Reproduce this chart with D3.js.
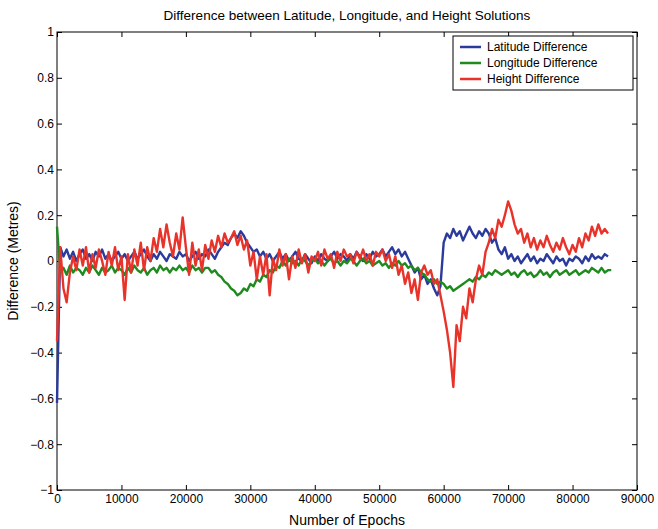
<!DOCTYPE html>
<html><head><meta charset="utf-8">
<script src="https://cdn.jsdelivr.net/npm/d3@7"></script>
<style>body{margin:0;background:#fff}text{font-family:Arial,"Liberation Sans",sans-serif}</style>
</head><body><div id="chart"></div>
<script>
// epochs sampled every 500
const step = 500;
const latitude = [-0.62,0.06,0.02,0.05,0.01,0.04,0.0,0.03,0.05,0.01,0.03,0.0,0.04,0.02,0.05,0.01,0.03,0.0,0.02,0.04,
  0.01,0.03,0.0,0.02,0.04,0.01,0.03,0.05,0.02,0.0,0.03,0.01,0.04,0.02,0.0,0.03,0.02,0.01,0.04,0.02,
  0.03,0.0,0.02,0.04,0.01,0.03,0.02,0.05,0.03,0.01,0.04,0.06,0.08,0.07,0.10,0.12,0.10,0.13,0.11,0.08,
  0.06,0.04,0.05,0.02,0.04,0.01,0.03,0.0,0.02,0.04,0.01,0.03,0.0,0.02,0.04,0.01,0.0,0.03,0.01,-0.01,
  0.02,0.0,0.03,0.01,0.0,0.02,0.04,0.01,0.03,0.02,0.0,0.03,0.01,0.04,0.02,0.0,0.03,0.01,0.04,0.02,
  0.03,0.05,0.02,0.04,0.06,0.03,0.05,0.02,0.04,0.01,-0.02,-0.05,-0.03,-0.08,-0.06,-0.10,-0.08,-0.12,-0.15,-0.11,
  0.08,0.12,0.10,0.14,0.11,0.13,0.09,0.12,0.15,0.12,0.10,0.13,0.11,0.14,0.12,0.08,0.10,0.05,0.03,0.06,
  0.01,0.03,0.0,0.02,-0.01,0.01,0.03,0.0,0.02,-0.01,0.01,0.0,0.03,0.01,-0.01,0.02,0.0,0.01,-0.02,0.01,
  0.0,0.02,0.01,-0.01,0.02,0.0,0.03,0.01,0.02,0.01,0.03,0.02];
const longitude = [0.15,-0.05,-0.03,-0.06,-0.02,-0.05,-0.03,-0.04,-0.06,-0.03,-0.05,-0.02,-0.04,-0.06,-0.03,-0.05,-0.04,-0.02,-0.05,-0.03,
  -0.04,-0.06,-0.03,-0.05,-0.02,-0.04,-0.05,-0.03,-0.06,-0.04,-0.03,-0.05,-0.02,-0.04,-0.03,-0.05,-0.03,-0.04,-0.02,-0.04,
  -0.03,-0.05,-0.02,-0.04,-0.03,-0.05,-0.03,
  -0.03,-0.05,-0.04,-0.06,-0.07,-0.09,-0.10,-0.12,-0.13,-0.15,-0.14,-0.12,-0.13,-0.10,-0.11,-0.08,-0.09,-0.06,-0.07,-0.04,
  -0.05,-0.02,-0.03,0.0,-0.02,0.01,-0.01,0.0,-0.02,0.01,0.0,-0.02,0.0,0.01,-0.01,0.0,-0.02,0.0,0.01,-0.01,
  0.0,-0.02,0.0,-0.01,0.01,0.0,-0.02,0.0,0.01,-0.01,0.0,-0.02,-0.01,
  0.0,-0.02,-0.01,-0.03,-0.01,-0.02,0.0,-0.02,-0.01,-0.03,-0.02,-0.04,-0.03,-0.05,-0.06,-0.08,-0.09,-0.08,-0.10,-0.09,
  -0.10,-0.12,-0.11,-0.13,-0.12,-0.11,-0.10,-0.09,-0.08,-0.09,-0.07,-0.08,-0.06,-0.07,-0.05,-0.06,-0.04,-0.05,-0.06,-0.05,
  -0.04,-0.06,-0.05,-0.07,-0.05,-0.04,-0.06,-0.05,-0.07,-0.06,-0.04,-0.06,-0.05,-0.07,-0.05,-0.04,-0.06,-0.05,-0.04,-0.06,
  -0.05,-0.04,-0.06,-0.05,-0.04,-0.05,-0.03,-0.04,-0.05,-0.03,-0.05,-0.04,-0.04];
const height = [-0.35,0.06,-0.12,-0.18,-0.05,0.02,-0.04,0.05,-0.02,0.06,-0.05,0.03,-0.03,0.05,0.0,-0.06,0.04,-0.02,0.06,-0.04,
  0.02,-0.17,0.03,-0.05,0.05,-0.02,0.08,-0.04,0.06,0.0,0.10,0.04,0.14,0.06,0.16,0.08,0.02,0.12,0.05,0.19,
  0.06,-0.06,0.08,-0.02,0.05,-0.04,0.07,0.01,0.09,0.04,0.11,0.06,0.12,0.08,0.10,0.13,0.07,0.11,0.05,0.09,
  -0.02,0.04,-0.08,0.02,-0.06,0.03,-0.15,0.01,-0.04,0.05,-0.02,0.03,-0.08,0.02,-0.03,0.05,-0.01,0.03,-0.05,0.02,
  0.0,0.04,-0.02,0.05,0.01,0.03,-0.03,0.04,0.0,0.05,0.02,0.03,-0.01,0.04,0.01,0.05,0.0,0.03,-0.02,0.04,
  0.02,0.05,0.0,0.03,-0.03,0.02,-0.06,-0.02,-0.10,-0.05,-0.14,-0.08,-0.17,-0.05,-0.02,-0.06,-0.04,-0.10,-0.08,-0.15,
  -0.22,-0.30,-0.40,-0.55,-0.28,-0.35,-0.20,-0.25,-0.12,-0.18,-0.08,-0.02,-0.06,0.04,0.08,0.14,0.10,0.18,0.15,0.20,
  0.26,0.22,0.16,0.12,0.14,0.08,0.12,0.06,0.10,0.05,0.09,0.06,0.11,0.07,0.04,0.08,0.05,0.10,0.06,0.03,
  0.07,0.04,0.10,0.06,0.12,0.09,0.15,0.11,0.16,0.12,0.14,0.12];
const xTicks = d3.range(0, 90001, 10000);
const yTicks = d3.range(-1, 1.0001, 0.2);
const seriesNames = ["Latitude Difference", "Longitude Difference", "Height Difference"];
const seriesColors = ["#2b3b9b", "#1f8a1f", "#e8332a"];

const W = 658, H = 529;
const margin = { top: 32, right: 21, bottom: 39, left: 57 };
const w = W - margin.left - margin.right, h = H - margin.top - margin.bottom;

const svg = d3.select("#chart").append("svg").attr("width", W).attr("height", H);
const g = svg.append("g").attr("transform", `translate(${margin.left},${margin.top})`);

const x = d3.scaleLinear().domain([0, 90000]).range([0, w]);
const y = d3.scaleLinear().domain([-1, 1]).range([h, 0]);

g.append("rect").attr("width", w).attr("height", h).attr("fill", "#fff").attr("stroke", "#000");

const fmt = d => Math.abs(d) < 1e-9 ? "0" : d3.format("~g")(+d.toFixed(1));
const xa = g.append("g").attr("transform", `translate(0,${h})`)
  .call(d3.axisBottom(x).tickValues(xTicks).tickSize(-5).tickPadding(4).tickFormat(d3.format("d")));
const xt = g.append("g").call(d3.axisTop(x).tickValues(xTicks).tickSize(-5).tickFormat(""));
const ya = g.append("g").call(d3.axisLeft(y).tickValues(yTicks).tickSize(-5).tickPadding(3).tickFormat(fmt));
const yr = g.append("g").attr("transform", `translate(${w},0)`)
  .call(d3.axisRight(y).tickValues(yTicks).tickSize(-5).tickFormat(""));
[xa, xt, ya, yr].forEach(a => { a.select(".domain").remove(); a.selectAll("text").style("font-size", "12px").attr("fill", "#000"); });

const line = d3.line().x((d, i) => x(i * step)).y(d => y(d));
[latitude, longitude, height].forEach((s, k) => {
  g.append("path").datum(s).attr("fill", "none").attr("stroke", seriesColors[k])
    .attr("stroke-width", 2.4).attr("stroke-linejoin", "round").attr("d", line);
});

svg.append("text").attr("x", margin.left + w / 2).attr("y", 20).attr("text-anchor", "middle")
  .style("font-size", "13.5px").text("Difference between Latitude, Longitude, and Height Solutions");
svg.append("text").attr("x", margin.left + w / 2).attr("y", H - 4).attr("text-anchor", "middle")
  .style("font-size", "14px").text("Number of Epochs");
svg.append("text").attr("transform", `translate(18,${margin.top + h / 2}) rotate(-90)`)
  .attr("text-anchor", "middle").style("font-size", "14px").text("Difference (Metres)");

const lg = g.append("g").attr("transform", `translate(${w - 184},4)`);
lg.append("rect").attr("width", 180).attr("height", 54).attr("fill", "#fff").attr("stroke", "#000");
seriesNames.forEach((n, i) => {
  const yy = 11 + i * 16;
  lg.append("line").attr("x1", 7).attr("x2", 28).attr("y1", yy).attr("y2", yy)
    .attr("stroke", seriesColors[i]).attr("stroke-width", 2.5);
  lg.append("text").attr("x", 34).attr("y", yy + 4).style("font-size", "12px").text(n);
});
</script></body></html>
